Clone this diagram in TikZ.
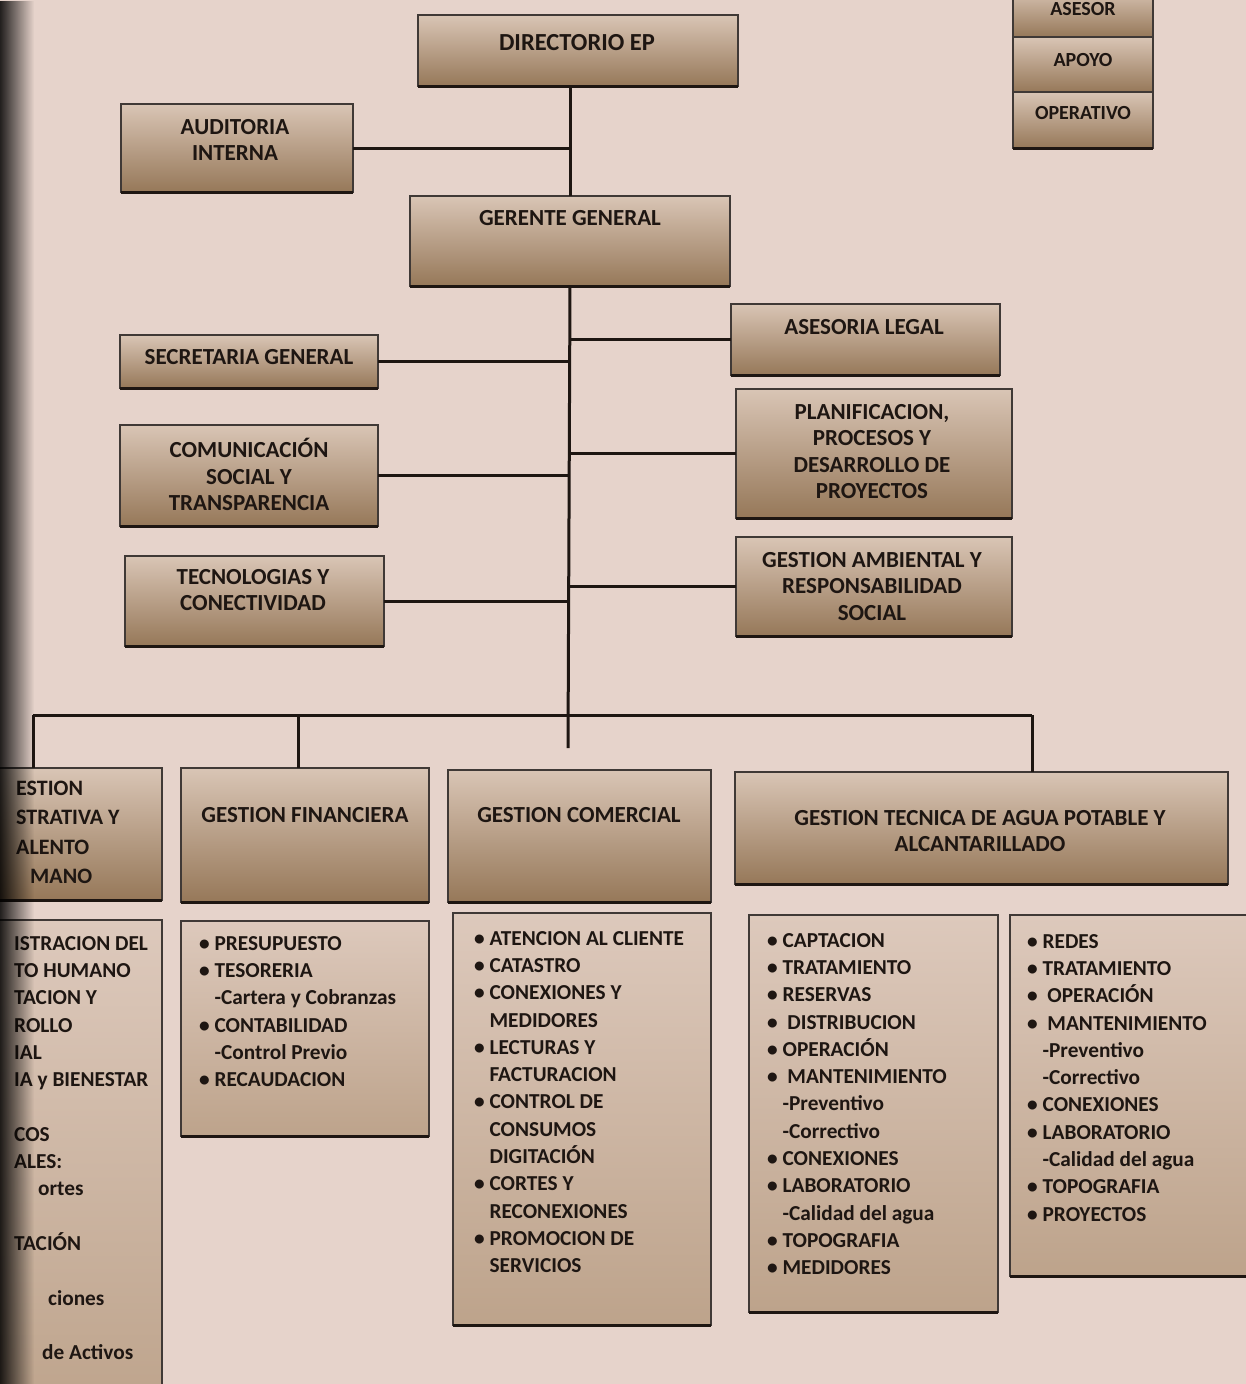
\documentclass[tikz,border=0pt]{standalone}
\usepackage{fontspec}
\setmainfont{Carlito}
\usetikzlibrary{fadings}
\definecolor{paper}{HTML}{E6D3CB}
\definecolor{boxtop}{HTML}{D9C5B5}
\definecolor{boxbot}{HTML}{967859}
\definecolor{listtop}{HTML}{DDC9BC}
\definecolor{listbot}{HTML}{BDA38B}
\definecolor{ink}{HTML}{1E1612}
\tikzfading[name=edgefade, left color=transparent!0, right color=transparent!100]
\tikzset{
  box/.style={draw=ink!85, line width=1.2pt, top color=boxtop, bottom color=boxbot, inner sep=0pt, outer sep=0pt},
  listbox/.style={draw=ink!85, line width=1.2pt, top color=listtop, bottom color=listbot, inner sep=0pt, outer sep=0pt},
  botline/.style={draw=ink, line width=3pt},
  conn/.style={draw=ink, line width=3pt},
  title/.style={inner sep=0pt, align=center, text=ink, font=\fontsize{23}{26.5}\selectfont\bfseries},
  lefttitle/.style={inner sep=0pt, align=left, text=ink, font=\fontsize{22}{29.3}\selectfont\bfseries, anchor=north west},
  listtext/.style={inner sep=0pt, align=left, text=ink, anchor=north west, font=\fontsize{21.3}{27.3}\selectfont\bfseries},
}
\newcommand{\orgbox}[6][box]{%
  \node[#1, minimum width={#5pt-#3pt}, minimum height={#6pt-#4pt}] (#2) at ({(#3+#5)/2},{(#4+#6)/2}) {};
  \draw[botline] (#2.south west) -- (#2.south east);}
\newcommand{\bl}{\textbullet\ }
\newcommand{\ind}{\phantom{\textbullet\ }}
\begin{document}
\begin{tikzpicture}[x=1pt,y=-1pt]
\useasboundingbox (0,0) rectangle (1246,1384);
\clip (0,0) rectangle (1246,1384);
\fill[paper] (0,0) rectangle (1246,1384);

% legend
\orgbox{asesor}{1013}{-12}{1153}{37}
\orgbox{apoyo}{1013}{37}{1153}{92}
\orgbox{operativo}{1013}{92}{1153}{148}
\node[title, anchor=north, font=\fontsize{20}{24}\selectfont\bfseries] (asesorT) at (1083,2) {ASESOR};
\node[title, anchor=north, font=\fontsize{20}{24}\selectfont\bfseries] (apoyoT) at (1083,53) {APOYO};
\node[title, anchor=north, font=\fontsize{20}{24}\selectfont\bfseries] (operativoT) at (1083,106) {OPERATIVO};

% top level
\orgbox{dir}{418}{15}{738}{86}
\node[title, anchor=north, font=\fontsize{24.5}{28}\selectfont\bfseries] (dirT) at (577,34) {DIRECTORIO EP};
\orgbox{aud}{121}{104}{353}{192}
\node[title, anchor=north] (audT) at (235,119) {AUDITORIA\\INTERNA};
\orgbox{ger}{410}{196}{730}{286}
\node[title, anchor=north] (gerT) at (570,210) {GERENTE GENERAL};

% staff left
\orgbox{sec}{120}{335}{378}{388}
\node[title, anchor=north] (secT) at (249,349) {SECRETARIA GENERAL};
\orgbox{com}{120}{425}{378}{526}
\node[title, anchor=north] (comT) at (249,438) {COMUNICACIÓN\\SOCIAL Y\\TRANSPARENCIA};
\orgbox{tec}{125}{556}{384}{646}
\node[title, anchor=north] (tecT) at (253,569) {TECNOLOGIAS Y\\CONECTIVIDAD};

% staff right
\orgbox{ase}{731}{304}{1000}{375}
\node[title, anchor=north] (aseT) at (864,319) {ASESORIA LEGAL};
\orgbox{pla}{736}{389}{1012}{518}
\node[title, anchor=north] (plaT) at (872,404) {PLANIFICACION,\\PROCESOS Y\\DESARROLLO DE\\PROYECTOS};
\orgbox{amb}{736}{537}{1012}{636}
\node[title, anchor=north] (ambT) at (872,552) {GESTION AMBIENTAL Y\\RESPONSABILIDAD\\SOCIAL};

% operative level
\orgbox{gadm}{-40}{768}{162}{900}
\node[lefttitle] (gadmT) at (16,781) {ESTION\\STRATIVA Y\\ALENTO\\\hspace*{14pt}MANO};
\orgbox{gfin}{181}{768}{429}{902}
\node[title, anchor=north] (gfinT) at (305,807) {GESTION FINANCIERA};
\orgbox{gcom}{448}{770}{711}{902}
\node[title, anchor=north] (gcomT) at (579,807) {GESTION COMERCIAL};
\orgbox{gtec}{735}{772}{1228}{884}
\node[title, anchor=north] (gtecT) at (980,810) {GESTION TECNICA DE AGUA POTABLE Y\\ALCANTARILLADO};

% connectors
\coordinate (spineend) at (568,748);
\coordinate (barleft) at (33,715);
\coordinate (barright) at (1032,715);
\draw[conn] (ger.north |- dir.south) -- (ger.north);
\draw[conn] (aud.east) -- (aud.east -| ger.north);
\draw[conn] (ger.south) -- (spineend);
\draw[conn] (sec.east) -- (sec.east -| ger.south);
\draw[conn] (com.east) -- (com.east -| ger.south);
\draw[conn] (tec.east) -- (tec.east -| ger.south);
\draw[conn] (ase.west) -- (ase.west -| ger.south);
\draw[conn] (pla.west) -- (pla.west -| ger.south);
\draw[conn] (amb.west) -- (amb.west -| ger.south);
\draw[conn] (barleft) -- (barright);
\draw[conn] (barleft) -- (barleft |- gadm.north);
\draw[conn] (barleft -| 298,0) -- (298,0 |- gfin.north);
\draw[conn] (barright) -- (barright |- gtec.north);

% lists
\orgbox[listbox]{ladm}{-40}{920}{162}{1420}
\node[listtext] (ladmT) at (14,936) {ISTRACION DEL\\TO HUMANO\\TACION Y\\ROLLO\\IAL\\IA y BIENESTAR\\\mbox{}\\COS\\ALES:\\\hspace*{24pt}ortes\\\mbox{}\\TACIÓN\\\mbox{}\\\hspace*{34pt}ciones\\\mbox{}\\\hspace*{28pt}de Activos};
\orgbox[listbox]{lfin}{181}{921}{429}{1136}
\node[listtext] (lfinT) at (199,936) {\bl PRESUPUESTO\\\bl TESORERIA\\\ind-Cartera y Cobranzas\\\bl CONTABILIDAD\\\ind-Control Previo\\\bl RECAUDACION};
\orgbox[listbox]{lcom}{453}{913}{711}{1325}
\node[listtext] (lcomT) at (474,931) {\bl ATENCION AL CLIENTE\\\bl CATASTRO\\\bl CONEXIONES Y\\\ind MEDIDORES\\\bl LECTURAS Y\\\ind FACTURACION\\\bl CONTROL DE\\\ind CONSUMOS\\\ind DIGITACIÓN\\\bl CORTES Y\\\ind RECONEXIONES\\\bl PROMOCION DE\\\ind SERVICIOS};
\orgbox[listbox]{lagua}{749}{915}{998}{1312}
\node[listtext] (laguaT) at (767,933) {\bl CAPTACION\\\bl TRATAMIENTO\\\bl RESERVAS\\\bl\ DISTRIBUCION\\\bl OPERACIÓN\\\bl\ MANTENIMIENTO\\\ind-Preventivo\\\ind-Correctivo\\\bl CONEXIONES\\\bl LABORATORIO\\\ind-Calidad del agua\\\bl TOPOGRAFIA\\\bl MEDIDORES};
\orgbox[listbox]{lalc}{1010}{915}{1270}{1276}
\node[listtext] (lalcT) at (1027,934) {\bl REDES\\\bl TRATAMIENTO\\\bl\ OPERACIÓN\\\bl\ MANTENIMIENTO\\\ind-Preventivo\\\ind-Correctivo\\\bl CONEXIONES\\\bl LABORATORIO\\\ind-Calidad del agua\\\bl TOPOGRAFIA\\\bl PROYECTOS};

% dark scan edge
\fill[black, path fading=edgefade, fill opacity=0.85] (0,0) rectangle (34,1384);
\end{tikzpicture}
\end{document}
